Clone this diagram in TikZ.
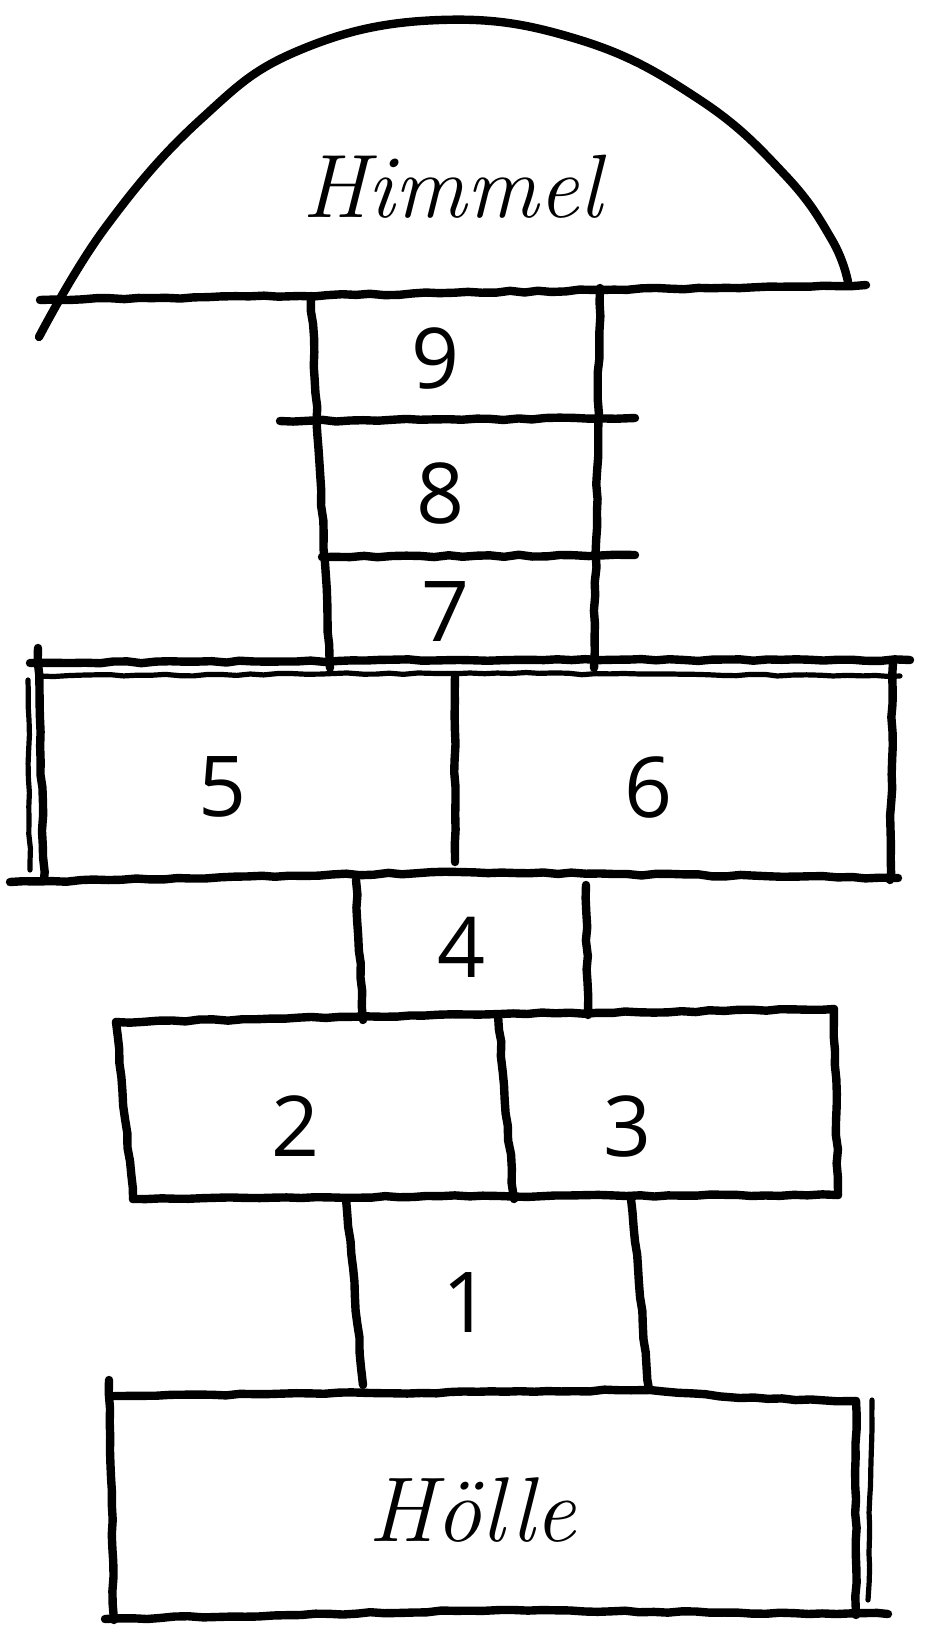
\documentclass[tikz,border=0pt]{standalone}
\usepackage{fontspec}
\newfontfamily\digitfont{Open Sans}
\usetikzlibrary{decorations.pathmorphing}
\begin{document}
\pgfmathsetseed{7}
\begin{tikzpicture}[x=0.5pt,y=-0.5pt,
  plainchalk/.style={line width=4.2pt, line cap=round, line join=round},
  chalk/.style={plainchalk, decorate,
    decoration={random steps, segment length=7pt, amplitude=0.5pt}},
  thinchalk/.style={chalk, line width=2.6pt},
  num/.style={font=\digitfont\fontsize{42}{42}\selectfont, inner sep=0pt},
  word/.style={font=\itshape\fontsize{45}{45}\selectfont, inner sep=0pt}]
\fill[white] (0,0) rectangle (928,1627);
\useasboundingbox (0,0) rectangle (928,1627);

% Himmel dome
\draw[plainchalk] plot[smooth, tension=0.7] coordinates {(39,337) (105,228) (200,120) (300,50) (440,20) (580,40) (700,100) (785,175) (832,240) (848,282)};
\draw[chalk] (40,300) -- (300,296) -- (600,290) -- (866,285);

% column 9 8 7
\draw[chalk] (311,296) -- (330,668);
\draw[chalk] (600,288) -- (594,668);
\draw[chalk] (280,421) -- (635,418);
\draw[chalk] (322,557) -- (635,555);

% 5 / 6
\draw[chalk] (30,663) -- (460,660) -- (910,660);
\draw[thinchalk] (40,676) -- (470,673) -- (900,676);
\draw[chalk] (38,648) -- (44,880);
\draw[thinchalk] (28,680) -- (30,870);
\draw[chalk] (893,662) -- (890,880);
\draw[chalk] (10,882) -- (460,872) -- (898,878);
\draw[chalk] (455,675) -- (455,862);

% 4
\draw[chalk] (356,880) -- (363,1020);
\draw[chalk] (586,885) -- (588,1015);

% 2 / 3
\draw[chalk] (116,1022) -- (500,1014) -- (834,1009);
\draw[chalk] (116,1022) -- (133,1199);
\draw[chalk] (834,1009) -- (838,1195);
\draw[chalk] (133,1199) -- (500,1196) -- (838,1195);
\draw[chalk] (498,1015) -- (514,1199);

% 1
\draw[chalk] (346,1199) -- (363,1385);
\draw[chalk] (631,1199) -- (649,1389);

% Hoelle
\draw[chalk] (114,1396) -- (650,1390) -- (740,1398) -- (856,1401);
\draw[chalk] (109,1380) -- (114,1620);
\draw[chalk] (856,1401) -- (856,1615);
\draw[thinchalk] (872,1400) -- (868,1600);
\draw[chalk] (105,1619) -- (500,1610) -- (888,1614);

% labels
\node[word] (himmel) at (452,187) {Himmel};
\node[num] (n9) at (436,358) {9};
\node[num] (n8) at (441,493) {8};
\node[num] (n7) at (446,612) {7};
\node[num] (n5) at (223,787) {5};
\node[num] (n6) at (649,787) {6};
\node[num] (n4) at (462,947) {4};
\node[num] (n2) at (296,1126) {2};
\node[num] (n3) at (628,1126) {3};
\node[num] (n1) at (467,1303) {1};
\node[word, font=\itshape\fontsize{46}{46}\selectfont] (hoelle) at (472,1510) {Hölle};
\end{tikzpicture}
\end{document}
